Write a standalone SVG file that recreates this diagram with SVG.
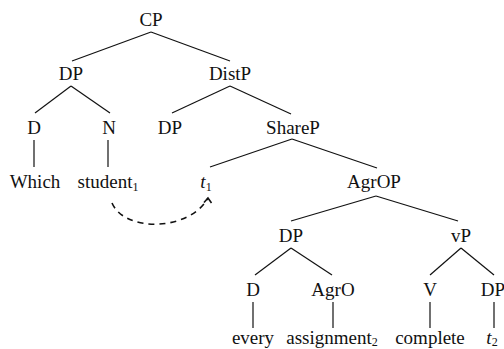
<svg xmlns="http://www.w3.org/2000/svg" width="504" height="349" viewBox="0 0 504 349">
<style>
text{font-family:"Liberation Serif","Times New Roman",serif;font-size:19px;fill:#111;text-anchor:middle}
.sub{font-size:12px}
.it{font-style:italic}
#edges line{stroke:#111;stroke-width:1.2}
.mv{fill:none;stroke:#111;stroke-width:1.6;stroke-dasharray:6 5}
</style>
<defs>
<marker id="ah" markerWidth="12" markerHeight="12" refX="6" refY="3" orient="0" markerUnits="userSpaceOnUse" viewBox="0 0 12 12">
<polyline points="2,7.5 6,3 9.5,8" fill="none" stroke="#111" stroke-width="1.6"/>
</marker>
</defs>
<g id="edges">
<line x1="151" y1="32" x2="72" y2="61"/>
<line x1="151" y1="32" x2="230" y2="61"/>
<line x1="71" y1="86" x2="35" y2="113"/>
<line x1="71" y1="86" x2="110" y2="113"/>
<line x1="230" y1="86" x2="172" y2="113"/>
<line x1="230" y1="86" x2="291" y2="114"/>
<line x1="34" y1="140" x2="34" y2="167"/>
<line x1="108" y1="140" x2="108" y2="167"/>
<line x1="292" y1="139" x2="210" y2="167"/>
<line x1="292" y1="139" x2="377" y2="168"/>
<line x1="376" y1="196" x2="291" y2="221"/>
<line x1="376" y1="196" x2="458" y2="221"/>
<line x1="291" y1="248" x2="255" y2="275"/>
<line x1="291" y1="248" x2="332" y2="275"/>
<line x1="461" y1="248" x2="430" y2="275"/>
<line x1="461" y1="248" x2="494" y2="275"/>
<line x1="253" y1="302" x2="253" y2="328"/>
<line x1="333" y1="302" x2="333" y2="328"/>
<line x1="430" y1="302" x2="430" y2="328"/>
<line x1="494" y1="302" x2="494" y2="328"/>
<path class="mv" d="M112,203 C125,233 190,231 208,198" marker-end="url(#ah)"/>
</g>
<g id="CP"><text x="151" y="26">CP</text></g>
<g id="DP1"><text x="71" y="80">DP</text></g>
<g id="DistP"><text x="230" y="80">DistP</text></g>
<g id="D1"><text x="34" y="134">D</text></g>
<g id="N"><text x="109" y="134">N</text></g>
<g id="DP2"><text x="170" y="134">DP</text></g>
<g id="ShareP"><text x="293" y="134">ShareP</text></g>
<g id="Which"><text x="35" y="188">Which</text></g>
<g id="student"><text x="108" y="188">student<tspan class="sub" dy="3">1</tspan></text></g>
<g id="t1"><text x="206" y="188"><tspan class="it">t</tspan><tspan class="sub" dy="3">1</tspan></text></g>
<g id="AgrOP"><text x="374" y="188">AgrOP</text></g>
<g id="DP3"><text x="291" y="242">DP</text></g>
<g id="vP"><text x="461" y="242">vP</text></g>
<g id="D2"><text x="253" y="296">D</text></g>
<g id="AgrO"><text x="333" y="296">AgrO</text></g>
<g id="V"><text x="430" y="296">V</text></g>
<g id="DP4"><text x="493" y="296">DP</text></g>
<g id="every"><text x="253" y="344">every</text></g>
<g id="assignment"><text x="332" y="344">assignment<tspan class="sub" dy="2">2</tspan></text></g>
<g id="complete"><text x="430" y="344">complete</text></g>
<g id="t2"><text x="492" y="344"><tspan class="it">t</tspan><tspan class="sub" dy="2">2</tspan></text></g>
</svg>
